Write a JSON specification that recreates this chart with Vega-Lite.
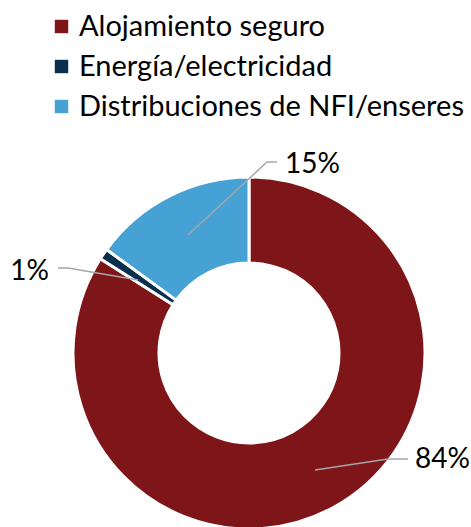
{
  "$schema": "https://vega.github.io/schema/vega-lite/v6.json",
  "width": 471,
  "height": 527,
  "autosize": {"type": "none"},
  "padding": 0,
  "background": "white",
  "config": {"view": {"stroke": null}, "font": "Lato"},
  "datasets": {
    "slices": [
      {"categoria": "Alojamiento seguro", "valor": 84, "orden": 1},
      {"categoria": "Energía/electricidad", "valor": 1, "orden": 2},
      {"categoria": "Distribuciones de NFI/enseres", "valor": 15, "orden": 3}
    ],
    "leaders": [
      {"etiqueta": "15%", "i": 1, "u": -0.3466, "v": 0.6705},
      {"etiqueta": "15%", "i": 2, "u": 0.1023, "v": 1.0852},
      {"etiqueta": "15%", "i": 3, "u": 0.1591, "v": 1.0852},
      {"etiqueta": "1%", "i": 1, "u": -0.6307, "v": 0.4148},
      {"etiqueta": "1%", "i": 2, "u": -1.0284, "v": 0.483},
      {"etiqueta": "1%", "i": 3, "u": -1.0852, "v": 0.483},
      {"etiqueta": "84%", "i": 1, "u": 0.375, "v": -0.6648},
      {"etiqueta": "84%", "i": 2, "u": 0.7898, "v": -0.6023},
      {"etiqueta": "84%", "i": 3, "u": 0.9034, "v": -0.6023}
    ],
    "labelsLeft": [
      {"etiqueta": "15%", "u": 0.2045, "v": 1.0682},
      {"etiqueta": "84%", "u": 0.9432, "v": -0.608}
    ],
    "labelsRight": [
      {"etiqueta": "1%", "u": -1.1364, "v": 0.4602}
    ]
  },
  "layer": [
    {
      "data": {"name": "slices"},
      "mark": {"type": "arc", "outerRadius": 176, "innerRadius": 90, "stroke": "white", "strokeWidth": 3},
      "encoding": {
        "x": {"datum": 0, "type": "quantitative", "scale": {"domain": [-1.4148, 1.2614]}, "axis": null},
        "y": {"datum": 0, "type": "quantitative", "scale": {"domain": [-0.98864, 2.00568]}, "axis": null},
        "theta": {"field": "valor", "type": "quantitative", "stack": true},
        "order": {"field": "orden", "type": "quantitative"},
        "color": {
          "field": "categoria",
          "type": "nominal",
          "sort": ["Alojamiento seguro", "Energía/electricidad", "Distribuciones de NFI/enseres"],
          "scale": {
            "domain": ["Alojamiento seguro", "Energía/electricidad", "Distribuciones de NFI/enseres"],
            "range": ["#7E1518", "#08304E", "#46A1D5"]
          },
          "legend": {
            "title": null,
            "orient": "none",
            "legendX": 47,
            "legendY": 12,
            "padding": 0,
            "symbolType": "square",
            "symbolSize": 180,
            "symbolStrokeWidth": 0,
            "labelFontSize": 29,
            "labelFont": "Lato",
            "labelColor": "#000000",
            "labelOffset": 3,
            "rowPadding": 10,
            "labelLimit": 500
          }
        }
      }
    },
    {
      "data": {"name": "leaders"},
      "mark": {"type": "line", "color": "#A6A6A6", "strokeWidth": 1.5},
      "encoding": {
        "x": {"field": "u", "type": "quantitative", "scale": {"domain": [-1.4148, 1.2614]}, "axis": null},
        "y": {"field": "v", "type": "quantitative", "scale": {"domain": [-0.98864, 2.00568]}, "axis": null},
        "detail": {"field": "etiqueta"},
        "order": {"field": "i", "type": "quantitative"}
      }
    },
    {
      "data": {"name": "labelsLeft"},
      "mark": {"type": "text", "fontSize": 28, "font": "Lato", "color": "#000000", "baseline": "middle", "align": "left"},
      "encoding": {
        "x": {"field": "u", "type": "quantitative", "scale": {"domain": [-1.4148, 1.2614]}, "axis": null},
        "y": {"field": "v", "type": "quantitative", "scale": {"domain": [-0.98864, 2.00568]}, "axis": null},
        "text": {"field": "etiqueta"}
      }
    },
    {
      "data": {"name": "labelsRight"},
      "mark": {"type": "text", "fontSize": 28, "font": "Lato", "color": "#000000", "baseline": "middle", "align": "right"},
      "encoding": {
        "x": {"field": "u", "type": "quantitative", "scale": {"domain": [-1.4148, 1.2614]}, "axis": null},
        "y": {"field": "v", "type": "quantitative", "scale": {"domain": [-0.98864, 2.00568]}, "axis": null},
        "text": {"field": "etiqueta"}
      }
    }
  ]
}
